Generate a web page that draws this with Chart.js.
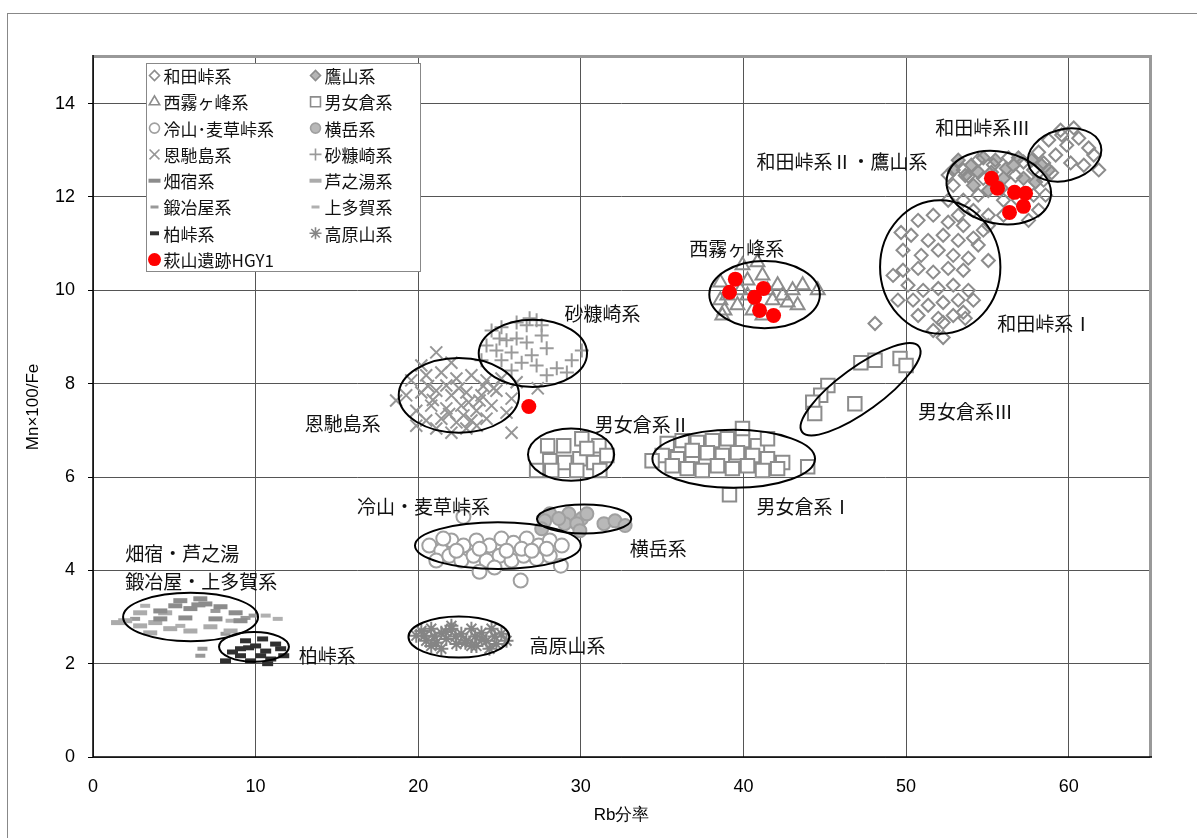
<!DOCTYPE html>
<html>
<head>
<meta charset="utf-8">
<script src="https://cdn.jsdelivr.net/npm/chart.js"></script>
<style>
  html, body { margin: 0; padding: 0; background: #fff; overflow: hidden; }
  #wrap { position: relative; width: 1197px; height: 838px; }
  #frame { position: absolute; left: 7px; top: 13px; width: 1190px; height: 840px; border: 1px solid #888; pointer-events: none; }
</style>
</head>
<body>
<div id="wrap">
  <canvas id="chart" width="1197" height="838"></canvas>
  <div id="frame"></div>
</div>
<script>
// --- series data: [Rb分率, Mn×100/Fe] ---
const wadaPts = [
  // 和田峠系Ⅲ
  [59.5,13.43],[58.77,13.22],[59.88,13.11],[60.62,13.26],[61.23,13.05],[59.2,12.9],[60.12,12.73],
  [58.46,12.73],[60.93,12.68],[61.85,12.58],[59.57,13.33],[58.15,12.96],[60.31,13.48],[58.95,12.52],[61.54,12.9],
  // 和田峠系Ⅱ
  [52.9,12.25],[53.52,12.58],[54.44,12.79],[55.37,12.69],[56.3,12.84],[57.22,12.75],[57.84,12.58],[58.46,12.36],
  [53.52,11.93],[54.44,12.04],[52.59,11.93],[53.21,11.61],[54.14,11.71],[55.06,11.39],[55.99,11.61],[56.91,11.93],
  [57.84,12.04],[58.15,11.72],[57.53,11.5],[53.83,12.45],[54.75,12.4],[56.73,12.46],[52.59,12.47],[55.99,11.93],[58.58,12.04],
  // 和田峠系Ⅰ
  [50.74,11.5],[51.67,11.61],[52.59,11.46],[53.52,11.39],[50.31,11.18],[51.36,11.07],[52.28,11.18],[53.21,11.07],
  [54.14,11.12],[54.75,11.29],[49.81,10.86],[50.93,10.75],[51.98,10.86],[52.9,10.75],[53.83,10.69],[49.81,10.43],
  [50.74,10.47],[51.67,10.39],[52.59,10.47],[53.52,10.43],[50.12,10.11],[51.05,10.0],[51.98,10.04],[52.9,10.11],
  [53.83,10.0],[50.43,9.79],[51.36,9.68],[52.28,9.74],[53.21,9.79],[50.74,9.46],[51.98,9.4],[52.9,9.46],[53.52,9.53],
  [51.67,9.14],[52.28,9.31],[49.2,10.32],[55.06,10.64],[54.14,9.79],[48.09,9.29],[52.28,8.99],[55.06,11.61],
  [54.44,10.97],[49.5,9.79],[53.64,9.4],[49.69,11.24]
];
const takayamaPts = [
  [53.21,12.79],[54.01,12.68],[54.75,12.84],[55.49,12.79],[56.17,12.61],[56.91,12.84],[57.72,12.79],[58.33,12.68],
  [53.64,12.46],[54.44,12.53],[55.25,12.53],[55.99,12.4],[57.22,12.4],[57.96,12.32],[54.14,12.25],[55.06,12.14],
  [55.86,12.19],[56.6,12.68],[52.9,12.58],[58.77,12.58]
];
const nishiPts = [
  [39.94,10.54],[40.86,10.6],[38.58,10.17],[40.25,10.21],[41.17,10.32],[42.1,10.11],[43.02,10.0],[43.64,10.11],
  [38.58,9.79],[39.63,9.68],[41.79,9.79],[42.72,9.74],[38.7,9.46],[40.56,9.57],[41.17,9.46],[43.33,9.68],
  [44.57,10.0],[40.25,9.89],[39.01,9.89],[42.41,9.89],[39.81,10.0],[38.83,9.57],[41.48,10.0]
];
const omegura = [
  // 男女倉系Ⅱ
  [27.96,6.67],[28.95,6.67],[30.06,6.82],[31.11,6.67],[28.09,6.35],[29.01,6.31],[29.94,6.39],[30.8,6.31],
  [31.6,6.46],[29.75,6.14],[28.21,6.14],[27.28,6.14],[31.17,6.14],[30.37,6.61],
  // 男女倉系Ⅰ
  [35.31,6.72],[36.23,6.78],[37.16,6.74],[38.09,6.78],[39.01,6.82],[39.94,6.78],[40.86,6.67],[41.48,6.82],
  [35.0,6.46],[35.93,6.39],[36.85,6.46],[37.78,6.52],[38.7,6.46],[39.63,6.52],[40.56,6.46],[41.48,6.39],
  [42.41,6.31],[35.62,6.24],[36.54,6.18],[37.47,6.14],[38.4,6.24],[39.32,6.18],[40.25,6.24],[41.17,6.14],
  [42.1,6.18],[39.94,7.04],[39.14,5.62],[34.38,6.35],[43.95,6.22],[36.85,6.57],
  // 男女倉系Ⅲ
  [47.22,8.45],[48.09,8.5],[49.63,8.54],[50.0,8.39],[45.19,7.96],[44.75,7.75],[46.85,7.57],[44.26,7.6],[44.38,7.36]
];
const reizanPts = [
  [20.68,4.53],[21.42,4.42],[22.04,4.64],[22.78,4.53],[23.58,4.64],[24.38,4.53],[25.12,4.68],[25.86,4.59],
  [26.67,4.68],[27.41,4.53],[28.09,4.64],[28.83,4.53],[21.11,4.21],[21.91,4.31],[22.65,4.21],[23.4,4.31],
  [24.2,4.21],[25.0,4.31],[25.74,4.21],[26.48,4.31],[27.28,4.25],[28.09,4.31],[23.77,4.46],[26.36,4.46],
  [22.35,4.42],[24.69,4.06],[28.77,4.1],[23.77,3.97],[26.3,3.78],[22.78,5.15],[21.54,4.68],[25.43,4.42],
  [26.98,4.42],[27.9,4.46]
];
const yokodakePts = [
  [28.09,5.21],[29.26,5.21],[30.06,5.11],[30.37,5.21],[31.42,5.0],[32.1,5.06],[32.72,4.96],[29.01,5.0],
  [29.75,5.0],[27.78,5.06],[28.64,5.11],[29.94,4.85],[27.59,4.89]
];
const onbasePts = [
  [19.57,8.07],[20.49,8.18],[21.42,8.24],[22.35,8.11],[23.27,8.18],[24.2,8.07],[25.12,8.11],[26.05,8.03],
  [19.26,7.75],[20.19,7.81],[21.11,7.85],[22.04,7.75],[22.96,7.81],[23.89,7.75],[24.81,7.85],[25.74,7.68],
  [19.88,7.42],[20.8,7.53],[21.73,7.47],[22.65,7.53],[23.58,7.42],[24.51,7.53],[25.43,7.38],[20.49,7.21],
  [21.42,7.25],[22.35,7.17],[23.27,7.21],[24.2,7.25],[21.11,7.04],[22.04,6.95],[22.96,7.04],[21.11,8.67],
  [20.19,8.39],[22.04,8.45],[25.74,6.95],[27.35,7.9],[18.64,7.64],[21.73,7.96],[23.77,7.64],[22.78,7.32],
  [24.63,7.9],[19.88,7.1],[20.9,7.65],[22.5,7.9],[23.1,7.6],[21.9,7.35],[24.0,7.95],[20.6,7.95],[23.6,7.1]
];
const sunukaPts = [
  [24.51,9.14],[25.12,9.21],[26.05,9.31],[26.67,9.25],[27.28,9.36],[25.43,8.93],[26.05,8.97],[26.67,8.88],
  [27.59,9.03],[24.2,8.82],[24.81,8.71],[25.74,8.67],[26.98,8.61],[27.9,8.76],[25.12,8.5],[26.36,8.45],
  [27.28,8.39],[28.52,8.33],[29.44,8.5],[30.06,8.71],[23.89,8.5],[25.74,8.28],[27.9,8.18],[29.14,8.24],
  [26.85,9.4],[27.59,9.25],[25.0,8.97]
];
const hatajukuPts = [
  [4.14,3.13],[5.06,3.24],[5.99,3.18],[6.91,3.28],[7.84,3.22],[8.77,3.09],[5.37,3.35],[6.6,3.39],
  [4.14,2.96],[5.68,2.98],[7.53,2.96],[9.07,2.92],[6.48,3.26]
];
const ashinoyuPts = [
  [2.9,3.09],[1.98,2.92],[2.9,2.81],[3.83,2.88],[4.75,2.75],[5.99,2.7],[7.22,2.79],[8.46,2.7],
  [3.52,2.66],[1.54,2.88],[4.44,3.09]
];
const kajiyaPts = [[6.6,2.17],[6.73,2.32],[9.38,2.98],[8.15,2.64],[9.88,3.03],[2.59,2.96],[7.53,3.13]];
const kamitagaPts = [[10.62,3.03],[11.36,2.96],[3.21,3.24],[8.46,2.92],[5.37,2.81]];
const kashiwaPts = [
  [9.07,2.32],[9.57,2.34],[10.0,2.38],[10.62,2.27],[11.23,2.42],[9.07,2.17],[9.69,2.06],[10.31,2.17],
  [10.93,2.1],[11.73,2.17],[9.38,2.49],[10.43,2.53],[11.54,2.32],[8.58,2.25],[10.74,2.0],[8.15,2.06]
];
const takaharaPts = [
  [20.19,2.7],[20.8,2.75],[21.42,2.66],[22.04,2.75],[22.65,2.64],[23.27,2.75],[23.89,2.66],[24.51,2.75],
  [25.12,2.64],[20.49,2.49],[21.11,2.45],[21.73,2.53],[22.35,2.42],[22.96,2.49],[23.58,2.38],[24.2,2.49],
  [24.81,2.42],[20.8,2.38],[22.04,2.81],[23.27,2.38],[24.38,2.32],[21.42,2.32],[25.43,2.49],[19.88,2.6],
  [21.0,2.58],[22.3,2.58],[23.5,2.58],[24.7,2.58],[21.7,2.68],[22.9,2.45],[23.9,2.52],[20.4,2.6]
];
const hagiyamaPts = [
  [55.25,12.4],[55.62,12.19],[56.67,12.1],[57.35,12.08],[57.22,11.8],[56.36,11.67],
  [39.5,10.24],[39.14,9.96],[41.23,10.04],[40.68,9.85],[40.99,9.57],[41.85,9.46],
  [26.8,7.51]
];

const seriesNames = ['和田峠系','鷹山系','西霧ヶ峰系','男女倉系','冷山･麦草峠系','横岳系','恩馳島系','砂糠崎系',
  '畑宿系','芦之湯系','鍛冶屋系','上多賀系','柏峠系','高原山系','萩山遺跡HGY1'];

// --- group ellipses (centre and half-axes in axis units, tilt in degrees) ---
const ellipseX   = [59.75, 55.7, 52.1, 41.3, 27.05, 22.5, 47.2, 29.4, 39.4, 30.2, 24.9, 22.5, 6.0, 9.9];
const ellipseY   = [12.9, 12.2, 10.5, 9.91, 8.65, 7.75, 7.88, 6.48, 6.39, 5.1, 4.53, 2.57, 3.0, 2.36];
const ellipseRx  = [2.3, 3.25, 3.7, 3.4, 3.33, 3.7, 4.45, 2.65, 5.0, 2.9, 5.1, 3.1, 4.15, 2.15];
const ellipseRy  = [0.55, 0.77, 1.43, 0.72, 0.72, 0.8, 0.47, 0.56, 0.62, 0.31, 0.5, 0.44, 0.52, 0.32];
const ellipseRot = [-15, 12, 0, 0, 0, 0, -36, 0, 0, 0, 0, 0, 0, 0];

// --- group labels ---
const labelTexts = ['和田峠系Ⅲ','和田峠系Ⅱ・鷹山系','和田峠系Ⅰ','西霧ヶ峰系','砂糠崎系','恩馳島系','男女倉系Ⅱ',
  '男女倉系Ⅲ','男女倉系Ⅰ','冷山・麦草峠系','横岳系','高原山系','畑宿・芦之湯','鍛冶屋・上多賀系','柏峠系'];
const labelX = [51.8, 40.8, 55.6, 36.67, 29.0, 13.02, 30.86, 50.74, 40.8, 16.23, 33.0, 26.85, 1.98, 1.98, 12.65];
const labelY = [13.48, 12.75, 9.29, 10.88, 9.5, 7.15, 7.12, 7.4, 5.36, 5.36, 4.46, 2.38, 4.36, 3.76, 2.17];

const xTicks = [0, 10, 20, 30, 40, 50, 60];
const yTicks = [0, 2, 4, 6, 8, 10, 12, 14];

const toXY = pts => pts.map(p => ({ x: p[0], y: p[1] }));
const GRAY = '#8c8c8c';
const JP = "'Noto Sans CJK JP', 'Noto Sans', sans-serif";
const NUM = "'Liberation Sans Narrow', 'Liberation Sans', Arial, sans-serif";

function ds(i, pts, style) {
  return Object.assign({
    label: seriesNames[i],
    data: toXY(pts),
    borderWidth: 2,
    pointHoverRadius: 0,
    order: 5
  }, style);
}

const datasets = [
  ds(0, wadaPts, { pointStyle: 'rectRot', pointRadius: 6.5, borderColor: GRAY, backgroundColor: 'rgba(0,0,0,0)', legendRadius: 5 }),
  ds(1, takayamaPts, { pointStyle: 'rectRot', pointRadius: 6.5, borderColor: GRAY, backgroundColor: '#b4b4b4', order: 6, legendRadius: 5 }),
  ds(2, nishiPts, { pointStyle: 'triangle', pointRadius: 8, borderColor: GRAY, backgroundColor: 'rgba(0,0,0,0)', legendRadius: 6 }),
  ds(3, omegura, { pointStyle: 'rect', pointRadius: 9.5, borderColor: GRAY, backgroundColor: '#ffffff', legendRadius: 7 }),
  ds(4, reizanPts, { pointStyle: 'circle', pointRadius: 7, borderColor: '#a0a0a0', backgroundColor: '#ffffff', legendRadius: 5 }),
  ds(5, yokodakePts, { pointStyle: 'circle', pointRadius: 6.5, borderColor: '#a0a0a0', backgroundColor: '#b8b8b8', legendRadius: 5 }),
  ds(6, onbasePts, { pointStyle: 'crossRot', pointRadius: 8.5, borderColor: '#969696', backgroundColor: '#969696', legendRadius: 7 }),
  ds(7, sunukaPts, { pointStyle: 'cross', pointRadius: 7, borderColor: '#9a9a9a', backgroundColor: '#9a9a9a', legendRadius: 6 }),
  ds(8, hatajukuPts, { pointStyle: 'line', pointRadius: 7, borderWidth: 5, borderColor: '#8c8c8c', legendRadius: 6 }),
  ds(9, ashinoyuPts, { pointStyle: 'line', pointRadius: 7, borderWidth: 5, borderColor: '#ababab', legendRadius: 6 }),
  ds(10, kajiyaPts, { pointStyle: 'line', pointRadius: 5, borderWidth: 4, borderColor: '#999999', legendRadius: 4 }),
  ds(11, kamitagaPts, { pointStyle: 'line', pointRadius: 5, borderWidth: 4, borderColor: '#b0b0b0', legendRadius: 4 }),
  ds(12, kashiwaPts, { pointStyle: 'line', pointRadius: 5.5, borderWidth: 5, borderColor: '#303030', legendRadius: 4.5 }),
  ds(13, takaharaPts, { pointStyle: 'star', pointRadius: 7, borderWidth: 2, borderColor: '#858585', backgroundColor: '#858585', legendRadius: 6 }),
  ds(14, hagiyamaPts, { pointStyle: 'circle', pointRadius: 7.5, borderWidth: 0, borderColor: '#ff0000', backgroundColor: '#ff0000', order: 0, legendRadius: 6.5 })
];

// ellipses + group labels drawn in axis units through the scales
const groupPlugin = {
  id: 'groups',
  afterDatasetsDraw(chart) {
    const { ctx, scales: { x, y } } = chart;
    const ux = Math.abs(x.getPixelForValue(1) - x.getPixelForValue(0));
    const uy = Math.abs(y.getPixelForValue(1) - y.getPixelForValue(0));
    ctx.save();
    ctx.strokeStyle = '#000';
    ctx.lineWidth = 2;
    ellipseX.forEach((cx, i) => {
      ctx.beginPath();
      ctx.ellipse(x.getPixelForValue(cx), y.getPixelForValue(ellipseY[i]),
        ellipseRx[i] * ux, ellipseRy[i] * uy, ellipseRot[i] * Math.PI / 180, 0, Math.PI * 2);
      ctx.stroke();
    });
    ctx.fillStyle = '#111';
    ctx.font = '19px ' + JP;
    ctx.textAlign = 'left';
    ctx.textBaseline = 'middle';
    labelTexts.forEach((t, i) => {
      ctx.fillText(t, x.getPixelForValue(labelX[i]), y.getPixelForValue(labelY[i]));
    });
    ctx.restore();
  }
};

// plot frame: black left/bottom, grey heavier top/right
const framePlugin = {
  id: 'plotFrame',
  afterDraw(chart) {
    const { ctx, chartArea: a } = chart;
    ctx.save();
    ctx.strokeStyle = '#999';
    ctx.lineWidth = 3;
    ctx.beginPath();
    ctx.moveTo(a.left, a.top - 0.5);
    ctx.lineTo(a.right + 0.5, a.top - 0.5);
    ctx.lineTo(a.right + 0.5, a.bottom);
    ctx.stroke();
    ctx.strokeStyle = '#000';
    ctx.lineWidth = 1.5;
    ctx.beginPath();
    ctx.moveTo(a.left, a.top - 2);
    ctx.lineTo(a.left, a.bottom);
    ctx.lineTo(a.right + 2, a.bottom);
    ctx.stroke();
    ctx.restore();
  }
};

// two-column legend box in the upper left
const legendPlugin = {
  id: 'gridLegend',
  afterDraw(chart) {
    const { ctx, chartArea: a } = chart;
    const box = { x: a.left + 53.5, y: a.top + 6.5, w: 274, h: 208 };
    ctx.save();
    ctx.fillStyle = '#fff';
    ctx.fillRect(box.x, box.y, box.w, box.h);
    ctx.strokeStyle = '#888';
    ctx.lineWidth = 1;
    ctx.strokeRect(box.x, box.y, box.w, box.h);
    ctx.font = '17px ' + JP;
    ctx.textBaseline = 'middle';
    chart.data.datasets.forEach((d, i) => {
      const col = i % 2, row = Math.floor(i / 2);
      const sx = box.x + 8 + col * 161;
      const sy = box.y + 12 + row * 26.3;
      ctx.fillStyle = d.backgroundColor || d.borderColor;
      ctx.strokeStyle = d.borderColor;
      ctx.lineWidth = d.pointStyle === 'line' ? d.borderWidth - 1 : Math.min(d.borderWidth, 1.6);
      Chart.helpers.drawPoint(ctx, { pointStyle: d.pointStyle, rotation: 0, radius: d.legendRadius, borderWidth: d.borderWidth }, sx, sy);
      ctx.fillStyle = '#111';
      ctx.fillText(d.label, sx + 9, sy + 1);
    });
    ctx.restore();
  }
};

new Chart(document.getElementById('chart'), {
  type: 'scatter',
  data: { datasets },
  options: {
    responsive: false,
    animation: false,
    events: [],
    layout: { padding: { top: 57, right: 47, left: 0, bottom: 0 } },
    plugins: { legend: { display: false }, tooltip: { enabled: false } },
    scales: {
      x: {
        type: 'linear', min: 0, max: 65,
        afterBuildTicks: s => { s.ticks = xTicks.map(v => ({ value: v })); },
        afterFit: s => { s.height = 81; },
        border: { display: false },
        grid: { color: '#555', borderDash: [2, 2], lineWidth: 1, drawTicks: false },
        ticks: { padding: 19, color: '#000', font: { family: NUM, size: 18 } },
        title: { display: true, text: 'Rb分率', color: '#000', font: { family: NUM, size: 17 }, padding: { top: 0, bottom: 12 } }
      },
      y: {
        type: 'linear', min: 0, max: 15,
        afterBuildTicks: s => { s.ticks = yTicks.map(v => ({ value: v })); },
        afterFit: s => { s.width = 93; },
        border: { display: false },
        grid: { color: '#555', borderDash: [2, 2], lineWidth: 1, drawTicks: true, tickLength: 5, tickColor: '#000', tickBorderDash: [] },
        ticks: { padding: 13, color: '#000', font: { family: NUM, size: 18 } },
        title: { display: true, text: 'Mn×100/Fe', color: '#000', font: { family: NUM, size: 17 }, padding: { top: 23, bottom: 0 } }
      }
    }
  },
  plugins: [groupPlugin, framePlugin, legendPlugin]
});
</script>
</body>
</html>
